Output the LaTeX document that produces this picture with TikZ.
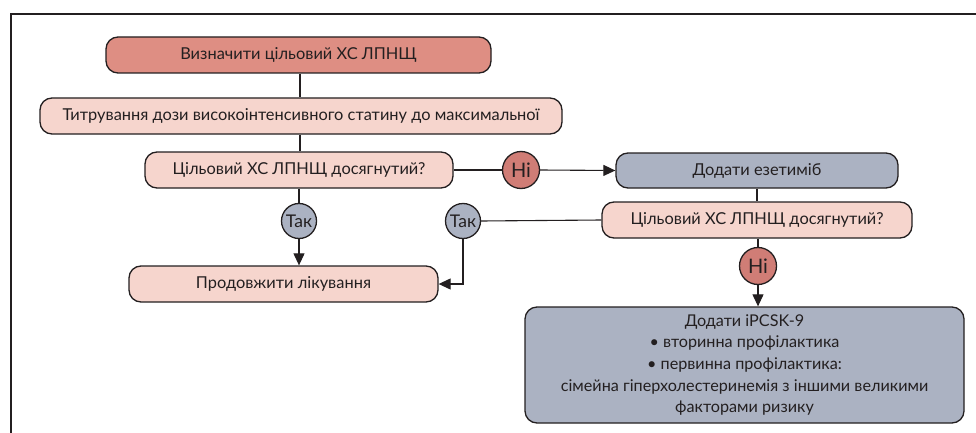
\documentclass[tikz,border=0pt]{standalone}
\usepackage{fontspec}
\setmainfont{Lato}
\usetikzlibrary{arrows.meta}
\definecolor{salmon}{HTML}{DE8E83}
\definecolor{lpink}{HTML}{F6D5CD}
\definecolor{gblue}{HTML}{ABB2C2}
\definecolor{nired}{HTML}{D07D76}
\definecolor{ink}{HTML}{231F20}
\tikzset{
  box/.style={draw=ink, line width=1.3pt, rounded corners=12pt, text=ink, inner sep=0pt, minimum height=36pt, font=\fontsize{16.4}{18}\selectfont},
  dot/.style={circle, draw=ink, line width=1.3pt, inner sep=0pt, text=ink, font=\fontsize{20}{20}\selectfont},
  conn/.style={draw=ink, line width=1.1pt},
  arr/.style={conn, -{Triangle[length=12pt,width=11pt]}}
}
\begin{document}
\begin{tikzpicture}[x=1pt,y=-1pt]
\useasboundingbox (0,0) rectangle (976,433);
\draw[line width=2pt, ink] (976,14) -- (11,14) -- (11,433);
\node[box, fill=salmon, minimum width=385pt] (b1) at (298.5,55) {Визначити цільовий ХС ЛПНЩ};
\node[box, fill=lpink, minimum width=522pt] (b2) at (301,116) {Титрування дози високоінтенсивного статину до максимальної};
\node[box, fill=lpink, minimum width=308pt] (b3) at (299,170) {Цільовий ХС ЛПНЩ досягнутий?};
\node[dot, fill=nired, minimum size=37pt] (ni1) at (521,170) {Ні};
\node[box, fill=gblue, minimum width=282pt, minimum height=35pt] (ez) at (757,170.5) {Додати езетиміб};
\node[box, fill=lpink, minimum width=310pt] (d2) at (757,220) {Цільовий ХС ЛПНЩ досягнутий?};
\node[dot, fill=gblue, minimum size=35pt, font=\fontsize{17.5}{18}\selectfont] (t1) at (299,221) {Так};
\node[dot, fill=gblue, minimum size=35pt, font=\fontsize{17.5}{18}\selectfont] (t2) at (463,221) {Так};
\node[box, fill=lpink, minimum width=309pt] (prod) at (283.5,284) {Продовжити лікування};
\node[dot, fill=nired, minimum size=37pt] (ni2) at (758,266) {Ні};
\node[box, fill=gblue, minimum width=439pt, minimum height=116pt, align=center, font=\fontsize{16.2}{21.7}\selectfont] (pcsk) at (744.5,365) {Додати iPCSK-9\\• вторинна профілактика\\• первинна профілактика:\\сімейна гіперхолестеринемія з іншими великими\\факторами ризику};
\draw[conn] (b1.south -| 300,0) -- (b2.north -| 300,0);
\draw[conn] (b2.south -| 300,0) -- (b3.north -| 300,0);
\draw[conn] (b3.east) -- (ni1.west);
\draw[arr] (ni1.east) -- (ez.west);
\draw[conn] (b3.south -| t1.north) -- (t1.north);
\draw[arr] (t1.south) -- (t1.south |- prod.north);
\draw[conn] (ez.south) -- (ez.south |- d2.north);
\draw[conn] (d2.west) -- (t2.east);
\draw[arr] (t2.south) |- (prod.east);
\draw[conn] (d2.south -| ni2.north) -- (ni2.north);
\draw[arr] (ni2.south) -- (ni2.south |- pcsk.north);
\end{tikzpicture}
\end{document}
